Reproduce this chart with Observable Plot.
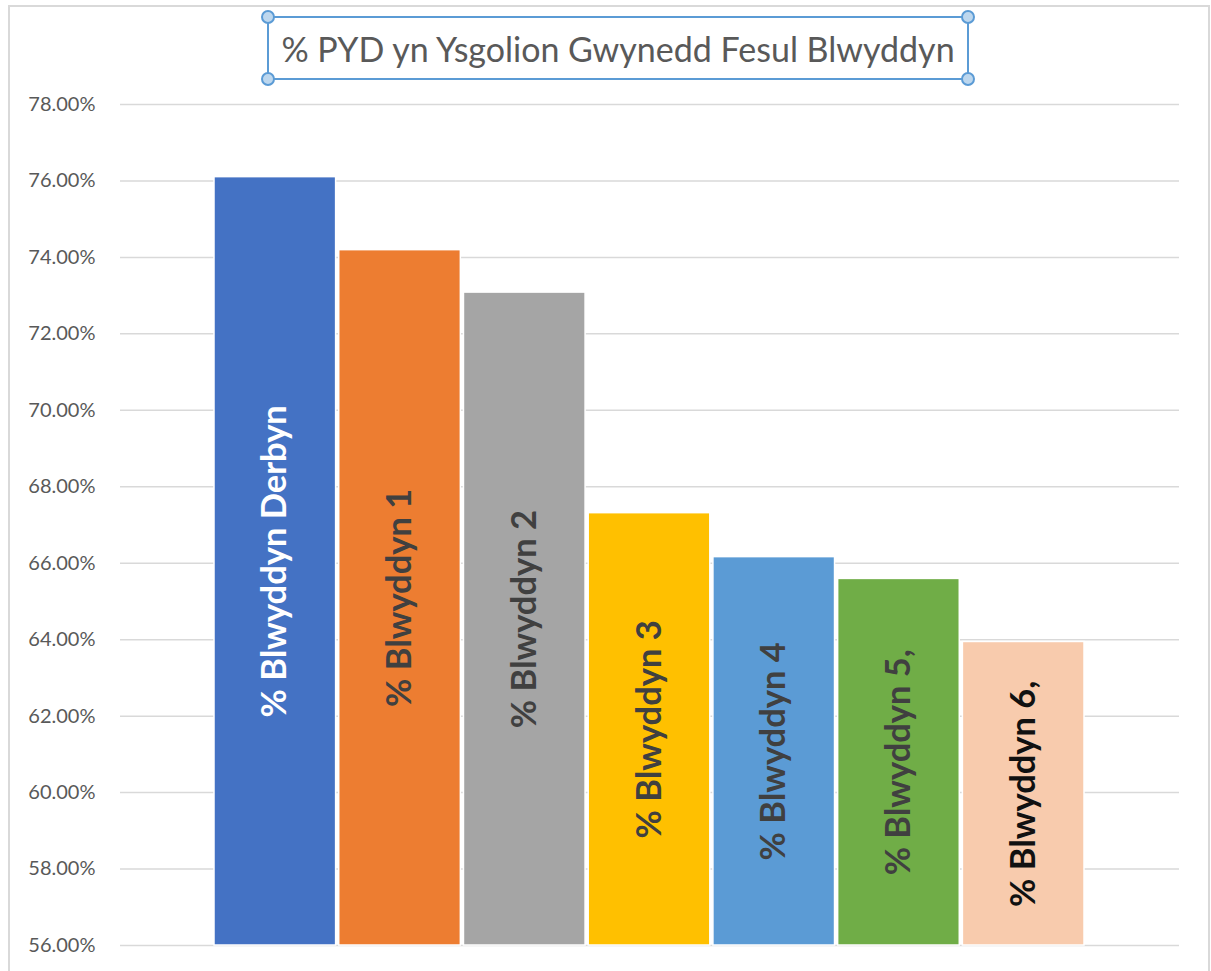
<!DOCTYPE html>
<html>
<head>
<meta charset="utf-8">
<script src="https://cdn.jsdelivr.net/npm/d3@7"></script>
<script src="https://cdn.jsdelivr.net/npm/@observablehq/plot@0.6"></script>
<style>
  html, body { margin: 0; padding: 0; background: #fff; overflow: hidden; }
  #wrap { position: relative; width: 1211px; height: 971px; overflow: hidden; background: #fff; }
  #frame { position: absolute; left: 8px; top: 5px; width: 1202px; height: 1010px; border: 2px solid #d9d9d9; box-sizing: border-box; pointer-events: none; }
  #titlebar { position: relative; height: 90px; }
  #tbox { position: absolute; left: 267px; top: 16px; width: 702px; height: 64px; border: 2px solid #5B9BD5; box-sizing: border-box;
          display: flex; align-items: center; justify-content: center; font-family: Lato, sans-serif; font-size: 34px; color: #595959; white-space: nowrap; }
  .h { position: absolute; width: 14px; height: 14px; border-radius: 50%; background: #BDD7EE; border: 2px solid #5B9BD5; box-sizing: border-box; }
  #chart { position: relative; }
</style>
</head>
<body>
<div id="wrap">
  <div id="frame"></div>
  <div id="titlebar">
    <div id="tbox">% PYD yn Ysgolion Gwynedd Fesul Blwyddyn</div>
    <div class="h" style="left:261px;top:10px"></div>
    <div class="h" style="left:261px;top:72px"></div>
    <div class="h" style="left:961px;top:10px"></div>
    <div class="h" style="left:961px;top:72px"></div>
  </div>
  <div id="chart"></div>
</div>
<script>
const categories = ["% Blwyddyn Derbyn", "% Blwyddyn 1", "% Blwyddyn 2", "% Blwyddyn 3", "% Blwyddyn 4", "% Blwyddyn 5,", "% Blwyddyn 6,"];
const values = [76.10, 74.19, 73.08, 67.31, 66.16, 65.59, 63.94];
const barColors = ["#4472C4", "#ED7D31", "#A5A5A5", "#FFC000", "#5B9BD5", "#70AD47", "#F8CBAD"];
const labelColors = ["#ffffff", "#404040", "#404040", "#404040", "#404040", "#404040", "#111111"];
const yTicks = [56, 58, 60, 62, 64, 66, 68, 70, 72, 74, 76, 78];

const rows = categories.map((c, i) => ({cat: c, value: values[i], color: barColors[i], labelColor: labelColors[i]}));
const yMin = yTicks[0];
const yMax = yTicks[yTicks.length - 1];

const chart = Plot.plot({
  width: 1211,
  height: 881,
  marginTop: 14,
  marginBottom: 26,
  marginLeft: 120,
  marginRight: 32,
  style: {fontFamily: "Lato, sans-serif", background: "transparent", overflow: "visible"},
  x: {domain: categories, range: [214, 1084], paddingInner: 0.025, paddingOuter: 0, round: false, axis: null},
  y: {domain: [yMin, yMax]},
  color: {type: "identity"},
  marks: [
    Plot.ruleY(yTicks, {stroke: "#d9d9d9", strokeWidth: 1.5}),
    Plot.axisY(yTicks, {tickSize: 0, tickPadding: 25, tickFormat: d => d.toFixed(2) + "%", fontSize: 20, fill: "#595959", label: null}),
    Plot.barY(rows, {x: "cat", y1: () => yMin, y2: "value", fill: "color", stroke: "white", strokeWidth: 1.5}),
    Plot.text(rows, {x: "cat", y: d => (yMin + d.value) / 2, text: "cat", rotate: -90, fill: "labelColor",
      fontWeight: "bold", fontSize: 34.5, fontFamily: "Lato, sans-serif", textAnchor: "middle", lineAnchor: "middle"})
  ]
});
document.getElementById("chart").appendChild(chart);
</script>
</body>
</html>
